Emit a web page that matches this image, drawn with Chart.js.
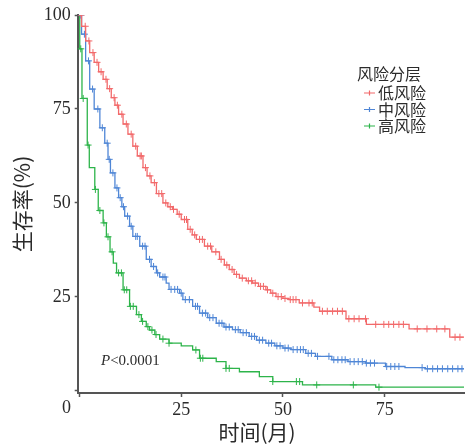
<!DOCTYPE html>
<html>
<head>
<meta charset="utf-8">
<script src="https://cdn.jsdelivr.net/npm/chart.js@4"></script>
<style>
  html, body { margin: 0; padding: 0; background: #fff; }
  #wrap { width: 469px; height: 447px; }
</style>
</head>
<body>
<div id="wrap"><canvas id="km-chart" width="469" height="447"></canvas></div>
<script>
// 组别
const groupNames = ['低风险', '中风险', '高风险'];
const groupColors = ['#F2696A', '#4F86D6', '#2DB44A'];

// 低风险: 时间(月) / 生存率(%)
const lowTime = [0, 0.5, 1.5, 2.5, 3.6, 4.7, 5.8, 6.8, 7.8, 8.7, 9.6, 10.7, 11.9, 13.1, 14.2, 15.6, 16.6, 17.6, 18.9, 20.5, 21.7, 22.9, 24, 25, 26.6, 27.7, 28.7, 30.7, 32.5, 34.4, 35.6, 36.8, 38, 39.3, 41, 42.5, 44, 45.8, 47, 48.3, 50, 51.5, 54, 57.6, 59, 65.5, 70.5, 81, 91, 94.5];
const lowSurv = [100, 97, 93.1, 90, 87.4, 84.9, 82.9, 80.4, 78, 76, 73.6, 71, 68.3, 65.1, 62.5, 59.4, 57.2, 55.4, 52.5, 50, 49, 48.3, 47, 45.6, 43, 41.5, 40.3, 38.5, 37, 35, 33.5, 32.3, 31, 30, 29.3, 28.7, 27.8, 26.9, 26, 25.1, 24.6, 24.3, 23.4, 22.3, 21.2, 19.2, 17.7, 16.5, 14.3, 14.3];
const lowCensor = [0.4, 1.4, 2.3, 3.3, 4.3, 5.3, 6.5, 7.4, 8.5, 9.3, 10.4, 11.5, 12.7, 13.8, 14.9, 15.2, 16.2, 17.3, 18.4, 19.5, 20.2, 21.2, 22.3, 23.1, 24.5, 25.8, 26.3, 27.2, 28.3, 29.5, 30.2, 31.5, 32.2, 33.5, 34.8, 36.2, 37.5, 38.6, 40, 41.5, 42.3, 43.2, 44.5, 45.2, 46.2, 47.5, 48.8, 49.6, 50.5, 51.8, 52.5, 53.2, 54.8, 56.4, 57.2, 59.7, 60.9, 62.2, 63.4, 64.6, 66.2, 67.5, 68.7, 70.3, 72.8, 74.8, 76, 77.2, 78.5, 79.6, 83, 85.4, 87.8, 89.8, 92.3, 93.5];

// 中风险
const midTime = [0, 0.5, 1.5, 2.5, 3.6, 5, 6.2, 7, 7.6, 8.7, 9.6, 10.4, 11.1, 12.3, 13.1, 14.8, 16.4, 17.6, 18.9, 19.7, 21.3, 22, 24.6, 25.4, 27.8, 29.5, 31.5, 33.6, 35.5, 37.6, 39.5, 41.7, 43.5, 45.8, 48, 50, 52, 55.6, 58, 62, 66, 70.3, 75.2, 80, 85, 94.5];
const midSurv = [100, 94.9, 87.8, 80.3, 75, 70, 65.9, 61.6, 58, 54, 51.4, 49, 46.5, 43.8, 41.1, 38.5, 35, 33.1, 31.4, 30.3, 28.7, 27, 26, 24.3, 22.5, 20.7, 19.5, 18, 17, 16.3, 15.5, 14.5, 13.5, 12.7, 12, 11.4, 11, 10, 9.2, 8.3, 7.8, 7.4, 6.5, 6.2, 5.9, 5.9];
const midCensor = [0.3, 1.2, 2.2, 3.2, 4.5, 5.6, 6.8, 7.3, 8.2, 9.2, 10, 10.8, 11.8, 12.7, 13.8, 14.2, 15.5, 16.1, 17.2, 18.2, 19.2, 20.5, 21, 22.5, 23.4, 24.1, 25, 26, 27, 28.5, 29, 30.2, 31, 32, 32.8, 34.3, 35, 36, 36.8, 38.3, 39, 40.2, 41, 42.3, 43, 44.2, 45, 46.5, 47.2, 48.5, 49.3, 50.5, 51.3, 52.5, 53.5, 54.3, 55, 56.2, 57, 58.5, 61.3, 62.5, 63.5, 64.5, 65.3, 66.5, 67.5, 68.5, 69.5, 70.5, 71.5, 72.5, 75.5, 76.5, 77.5, 78.5, 84.2, 85.5, 86.8, 88, 89.2, 90.5, 91.7, 93, 94];

// 高风险
const highTime = [0, 0.05, 0.6, 1.9, 2.4, 3.75, 4.6, 5.8, 6.6, 7.5, 8.3, 9.1, 10.7, 12.3, 14, 15.2, 16.4, 17.2, 18.5, 19.7, 22, 25, 27.8, 29.5, 33.6, 36, 39.3, 44.2, 47.5, 54.8, 72.8, 94.5];
const highSurv = [100, 91, 77.8, 65.4, 59.4, 53.6, 48, 44.7, 41, 37, 34, 31.4, 26.9, 22.5, 20.3, 18.5, 17.1, 16.2, 15, 13.8, 12.7, 12, 10.9, 8.7, 7.8, 6, 5.1, 3.8, 2.5, 1.6, 1, 1];
const highCensor = [0.3, 0.9, 2.1, 3.9, 5, 6, 7, 8, 9.6, 10.3, 11, 11.6, 12.5, 13.2, 14.6, 15.5, 16.8, 17.8, 18.8, 20.5, 22, 28.6, 29.7, 30.3, 36, 36.8, 47.5, 53.3, 54.1, 58.3, 67.3, 73.6];

// 坐标轴刻度
const xTicks = [0, 25, 50, 75];
const yTicks = [0, 25, 50, 75, 100];

const serif = "'Liberation Serif', 'Noto Sans CJK SC', serif";
const cjk = "'Noto Sans CJK SC', 'Liberation Serif', serif";
const axisColor = '#555555';
const textColor = '#2b2b2b';

// 删失时刻的生存率 (阶梯函数取值)
function survAt(times, surv, t) {
  let s = surv[0];
  for (let i = 0; i < times.length; i++) {
    if (times[i] <= t) s = surv[i];
  }
  return s;
}

const groups = [
  [lowTime, lowSurv, lowCensor],
  [midTime, midSurv, midCensor],
  [highTime, highSurv, highCensor],
];

const datasets = [];
groups.forEach(([times, surv, censor], i) => {
  datasets.push({
    label: groupNames[i],
    data: times.map((t, k) => ({ x: t, y: surv[k] })),
    borderColor: groupColors[i],
    borderWidth: 1.3,
    stepped: 'before',
    pointRadius: 0,
    fill: false,
  });
  datasets.push({
    label: groupNames[i] + ' 删失',
    data: censor.map((t) => ({ x: t, y: survAt(times, surv, t) })),
    showLine: false,
    pointStyle: 'cross',
    pointRadius: 3.5,
    pointBorderWidth: 1,
    borderColor: groupColors[i],
    backgroundColor: groupColors[i],
  });
});

// 图例, P 值, 横轴标题
const annotations = {
  id: 'annotations',
  afterDraw(chart) {
    const ctx = chart.ctx;
    const x = chart.scales.x;
    const y = chart.scales.y;
    ctx.save();
    ctx.fillStyle = textColor;
    ctx.textBaseline = 'middle';

    // 原点 0
    ctx.font = '18px ' + serif;
    ctx.textAlign = 'center';
    ctx.fillText('0', x.getPixelForValue(0) - 13, 408);

    // 横轴标题
    ctx.font = '21px ' + cjk;
    ctx.fillText('时间(月)', 257, 432);

    // P 值
    ctx.textAlign = 'left';
    ctx.font = 'italic 15px ' + serif;
    ctx.fillText('P', 101, 361);
    const pw = ctx.measureText('P').width;
    ctx.font = '15px ' + serif;
    ctx.fillText('<0.0001', 101 + pw, 361);

    // 图例
    ctx.font = '16px ' + cjk;
    ctx.fillText('风险分层', 357, 74);
    groupNames.forEach((name, i) => {
      const cy = 93 + i * 16.5;
      ctx.strokeStyle = groupColors[i];
      ctx.lineWidth = 1.2;
      ctx.beginPath();
      ctx.moveTo(364, cy);
      ctx.lineTo(375, cy);
      ctx.moveTo(369.5, cy - 2.5);
      ctx.lineTo(369.5, cy + 2.5);
      ctx.stroke();
      ctx.fillStyle = textColor;
      ctx.fillText(name, 378, cy);
    });
    ctx.restore();
  },
};

new Chart(document.getElementById('km-chart'), {
  type: 'line',
  data: { datasets },
  plugins: [annotations],
  options: {
    responsive: false,
    animation: false,
    layout: { padding: { top: 15, right: 3, left: 0, bottom: 0 } },
    plugins: {
      legend: { display: false },
      tooltip: { enabled: false },
    },
    scales: {
      x: {
        type: 'linear',
        min: -0.45,
        max: 94.5,
        afterFit: (scale) => { scale.height = 54; },
        afterBuildTicks: (scale) => { scale.ticks = xTicks.map((v) => ({ value: v })); },
        border: { display: true, color: axisColor, width: 2 },
        grid: { drawOnChartArea: false, drawTicks: true, tickLength: 4, tickColor: axisColor, tickWidth: 1.5 },
        ticks: {
          color: textColor,
          font: { family: serif, size: 18 },
          padding: 2,
          maxRotation: 0,
          callback: (v) => (v === 0 ? '' : v),
        },
      },
      y: {
        type: 'linear',
        min: -0.55,
        max: 100,
        afterFit: (scale) => { scale.width = 77.7; },
        afterBuildTicks: (scale) => { scale.ticks = yTicks.map((v) => ({ value: v })); },
        border: { display: true, color: axisColor, width: 2 },
        grid: { drawOnChartArea: false, drawTicks: true, tickLength: 3, tickColor: axisColor, tickWidth: 1.5 },
        ticks: {
          color: textColor,
          font: { family: serif, size: 18 },
          padding: 4,
          callback: (v) => (v === 0 ? '' : v),
        },
        title: {
          display: true,
          text: '生存率(%)',
          color: textColor,
          font: { family: cjk, size: 21 },
          padding: { top: 9, bottom: 0 },
        },
      },
    },
  },
});
</script>
</body>
</html>
